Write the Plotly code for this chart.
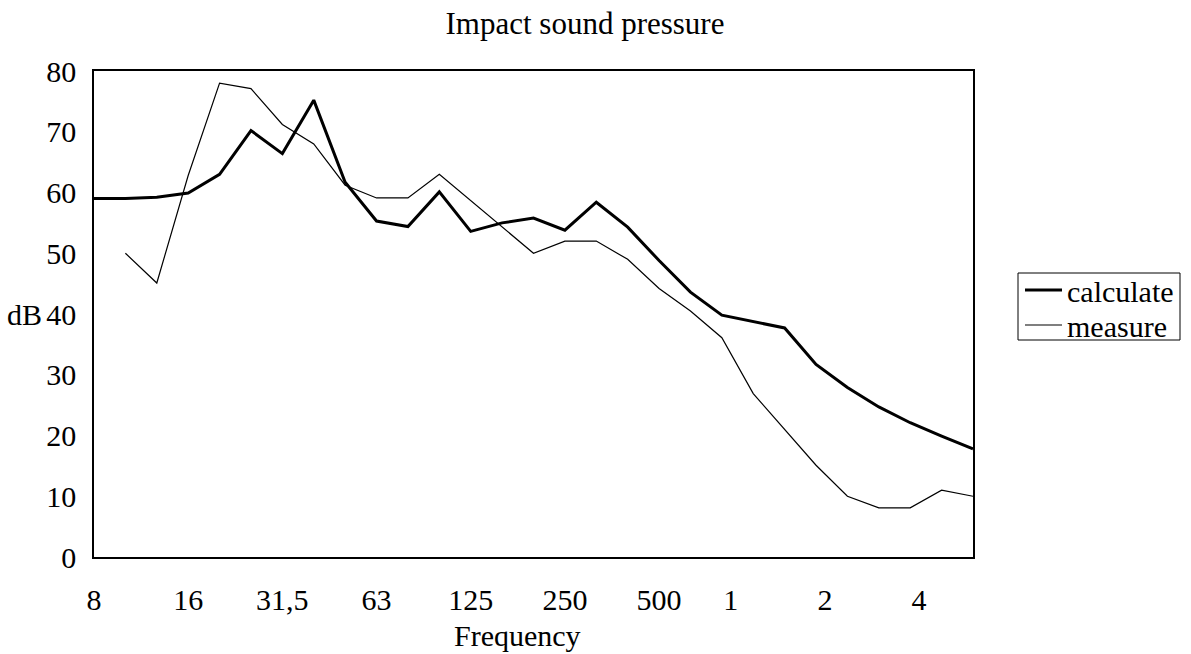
import plotly.graph_objects as go

categories = ["8", "10", "12,5", "16", "20", "25", "31,5", "40", "50", "63", "80", "100",
              "125", "160", "200", "250", "315", "400", "500", "630", "800", "1000",
              "1250", "1600", "2000", "2500", "3150", "4000", "5000"]

calculate = [59.0, 59.0, 59.2, 59.9, 63.0, 70.2, 66.4, 75.2, 61.7, 55.3, 54.4, 60.1,
             53.6, 55.0, 55.8, 53.8, 58.4, 54.3, 48.8, 43.6, 39.8, 38.7, 37.7, 31.7,
             27.9, 24.7, 22.1, 19.9, 17.8]

measure = [None, 50.0, 45.1, 62.8, 78.0, 77.1, 71.2, 68.0, 61.2, 59.1, 59.1, 63.0,
           58.7, 54.3, 50.0, 52.0, 52.0, 49.0, 44.2, 40.5, 36.1, 26.9, 21.0, 15.1,
           10.0, 8.1, 8.1, 11.0, 10.0]

tick_vals = ["8", "16", "31,5", "63", "125", "250", "500", "1000", "2000", "4000"]
NB = "\u00a0" * 6
tick_text = ["8", "16", "31,5", "63", "125", "250", "500", "1" + NB, "2" + NB, "4" + NB]

FONT = "Liberation Serif, Times New Roman, serif"
FS = 30

# plot area in pixels (for converting layout positions)
L, R, T, B = 94, 973, 71, 557
PW, PH = R - L, B - T


def px(x):
    return (x - L) / PW


def py(y):
    return (B - y) / PH


fig = go.Figure()
fig.add_trace(go.Scatter(x=categories, y=calculate, mode="lines", name="calculate",
                         line=dict(color="black", width=3), legend="legend"))
fig.add_trace(go.Scatter(x=categories, y=measure, mode="lines", name="measure",
                         line=dict(color="black", width=1.2), legend="legend2"))

legend_common = dict(xanchor="left", yanchor="middle", borderwidth=0,
                     bgcolor="rgba(0,0,0,0)",
                     font=dict(family=FONT, size=FS, color="black"), itemwidth=37)

fig.update_layout(
    width=1191, height=654,
    paper_bgcolor="white", plot_bgcolor="white",
    margin=dict(l=L, r=1191 - R, t=T, b=654 - B),
    font=dict(family=FONT, size=FS, color="black"),
    title=dict(text="Impact sound pressure", x=585 / 1191, xref="container", xanchor="center",
               y=1 - 23 / 654, yref="container", yanchor="middle",
               font=dict(family=FONT, size=31, color="black")),
    showlegend=True,
    legend=dict(x=px(1020), y=py(290), **legend_common),
    legend2=dict(x=px(1020), y=py(325), **legend_common),
    shapes=[dict(type="rect", xref="paper", yref="paper",
                 x0=px(1018), x1=px(1180), y0=py(340), y1=py(273),
                 line=dict(color="black", width=1), fillcolor="rgba(0,0,0,0)",
                 layer="below")],
    xaxis=dict(type="category", categoryorder="array", categoryarray=categories,
               range=[0, len(categories) - 1],
               tickmode="array", tickvals=tick_vals, ticktext=tick_text,
               showgrid=False, zeroline=False, showline=True, linecolor="black",
               linewidth=1.5, mirror=True, ticks="", ticklabelstandoff=15,
               tickfont=dict(family=FONT, size=FS, color="black")),
    yaxis=dict(range=[0, 80], tickmode="linear", tick0=0, dtick=10,
               showgrid=False, zeroline=False, showline=True, linecolor="black",
               linewidth=1.5, mirror=True, ticks="", ticklabelstandoff=10,
               tickfont=dict(family=FONT, size=FS, color="black")),
    annotations=[
        dict(text="Frequency", x=px(517.5), y=py(635), xref="paper", yref="paper",
             xanchor="center", yanchor="middle", showarrow=False,
             font=dict(family=FONT, size=FS, color="black")),
        dict(text="dB", x=px(44), y=40, xref="paper", yref="y",
             xanchor="right", yanchor="middle", showarrow=False,
             font=dict(family=FONT, size=FS, color="black")),
    ],
)

fig.write_html("out.html", config={"displayModeBar": False},
               post_script="document.body.style.margin='0';")
